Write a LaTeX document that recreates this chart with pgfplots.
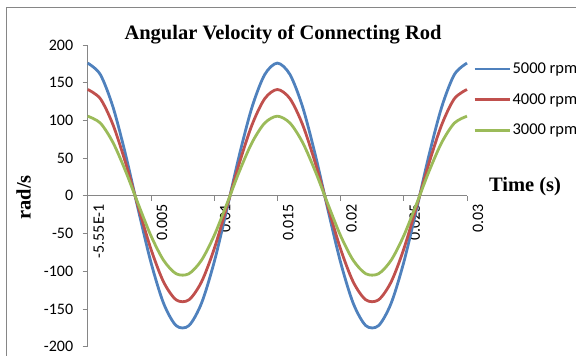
\documentclass[border=0pt]{standalone}
\usepackage{pgfplots}
\pgfplotsset{compat=1.18}
\usepackage{pgfplotstable}
\usepackage{fontspec}
\setmainfont{Liberation Serif}
\newfontfamily\calfont{Carlito}
\definecolor{s1}{HTML}{4F81BD}
\definecolor{s2}{HTML}{C0504D}
\definecolor{s3}{HTML}{9BBB59}
\definecolor{axgray}{HTML}{868686}

\pgfplotstableread{
t      a      b      c
0.000  176.0  141.0  105.6
0.001  160.8  128.8   96.5
0.002  117.8   94.3   70.7
0.003   54.4   43.6   32.6
0.004  -18.4  -14.7  -11.0
0.005  -88.0  -70.5  -52.8
0.006 -142.4 -114.1  -85.4
0.007 -172.1 -137.9 -103.3
0.008 -172.1 -137.9 -103.3
0.009 -142.4 -114.1  -85.4
0.010  -88.0  -70.5  -52.8
0.011  -18.4  -14.7  -11.0
0.012   54.4   43.6   32.6
0.013  117.8   94.3   70.7
0.014  160.8  128.8   96.5
0.015  176.0  141.0  105.6
0.016  160.8  128.8   96.5
0.017  117.8   94.3   70.7
0.018   54.4   43.6   32.6
0.019  -18.4  -14.7  -11.0
0.020  -88.0  -70.5  -52.8
0.021 -142.4 -114.1  -85.4
0.022 -172.1 -137.9 -103.3
0.023 -172.1 -137.9 -103.3
0.024 -142.4 -114.1  -85.4
0.025  -88.0  -70.5  -52.8
0.026  -18.4  -14.7  -11.0
0.027   54.4   43.6   32.6
0.028  117.8   94.3   70.7
0.029  160.8  128.8   96.5
0.030  176.0  141.0  105.6
}\datatable

\begin{document}
\begin{tikzpicture}
\begin{axis}[
  set layers,
  at={(87.7bp,9.3bp)}, anchor=south west,
  scale only axis, width=379.3bp, height=301.7bp,
  xmin=0, xmax=0.03, ymin=-200, ymax=200,
  clip=false,
  axis x line=middle, axis y line=left,
  hide obscured x ticks=false, hide obscured y ticks=false,
  axis line style={-, draw=axgray, line width=0.8bp},
  tick style={draw=axgray, line width=0.8bp},
  major tick length=5bp, tick align=outside,
  xtick={0,0.005,0.01,0.015,0.02,0.025,0.03},
  xticklabels={-5.55E-1,0.005,0.01,0.015,0.02,0.025,0.03},
  ytick={-200,-150,-100,-50,0,50,100,150,200},
  yticklabels={-200,-150,-100,-50,0,50,100,150,200},
  ticklabel style={font=\calfont\fontsize{16bp}{19bp}\selectfont},
  xticklabel style={rotate=90, anchor=east, yshift=-11bp},
  yticklabel style={anchor=east, xshift=-6bp},
  scaled x ticks=false,
  legend style={at={(rel axis cs:1.008,0.953)}, anchor=north west, draw=none, fill=none,
    font=\calfont\fontsize{16.5bp}{19bp}\selectfont, row sep=15.5bp,
    nodes={inner sep=1.5bp}},
  legend cell align=left,
  legend image code/.code={\draw[#1, line width=2.8bp] (0bp,0bp) -- (35bp,0bp);},
  every axis plot/.append style={line width=2.8bp, smooth, tension=0.5},
]
\addplot[s1] table[x=t,y=a] {\datatable};
\addplot[s2] table[x=t,y=b] {\datatable};
\addplot[s3] table[x=t,y=c] {\datatable};
\legend{5000 rpm,4000 rpm,3000 rpm}
\end{axis}
\node at (283bp,321bp) {\bfseries\fontsize{20.5bp}{24bp}\selectfont Angular Velocity of Connecting Rod};
\node at (525bp,169bp) {\bfseries\fontsize{20.5bp}{24bp}\selectfont Time (s)};
\node[rotate=90] at (23.5bp,158.5bp) {\bfseries\fontsize{20.5bp}{24bp}\selectfont rad/s};
\draw[axgray, line width=1.2bp] (6.5bp,0bp) -- (6.5bp,348.5bp) -- (576bp,348.5bp);
\pgfresetboundingbox
\path[use as bounding box] (0bp,0bp) rectangle (576bp,356bp);
\end{tikzpicture}
\end{document}
